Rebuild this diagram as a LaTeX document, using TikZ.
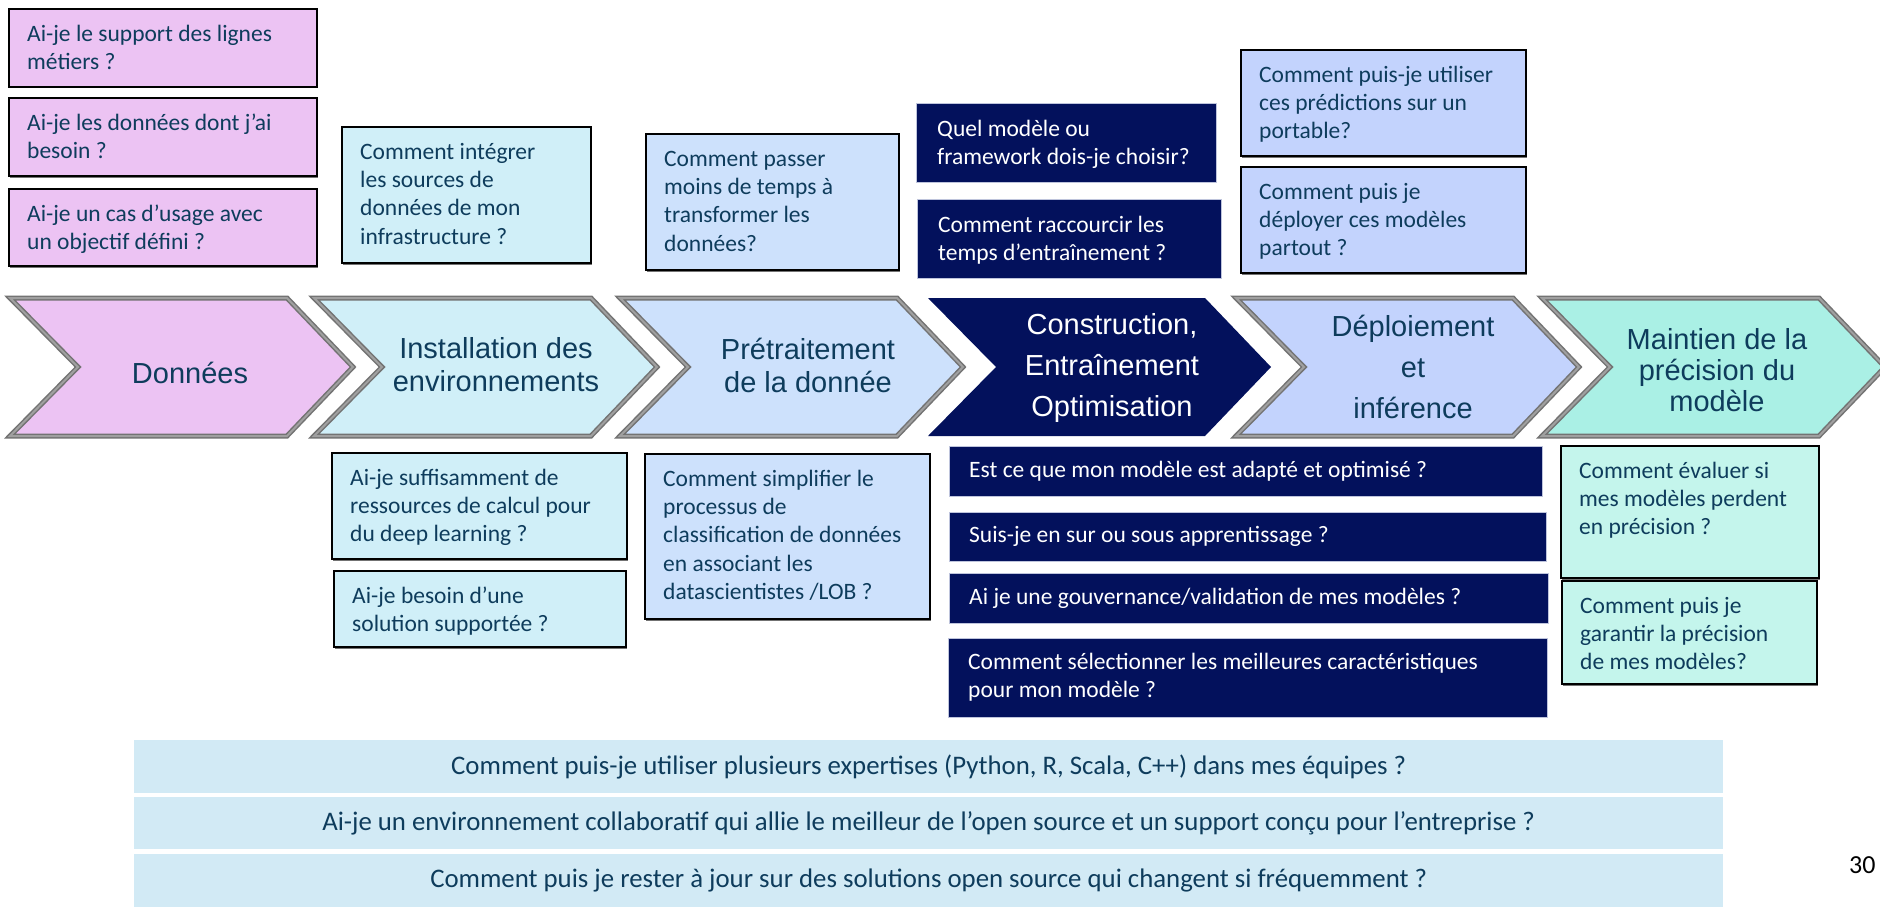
\documentclass[tikz,border=0pt]{standalone}
\usepackage{fontspec}
\setmainfont{Carlito}
\newfontfamily\arialf{Liberation Sans}
\usetikzlibrary{calc}
\definecolor{pinkF}{RGB}{236,195,243}
\definecolor{cyanF}{RGB}{208,239,248}
\definecolor{lblueF}{RGB}{205,225,252}
\definecolor{navyF}{RGB}{3,17,92}
\definecolor{periF}{RGB}{195,211,253}
\definecolor{mintC}{RGB}{170,240,229}
\definecolor{mintB}{RGB}{196,245,236}
\definecolor{barF}{RGB}{210,234,245}
\definecolor{txtC}{RGB}{14,60,92}
\definecolor{chevB}{RGB}{115,115,115}
\definecolor{chevL}{RGB}{160,160,160}
\definecolor{navyEdge}{RGB}{190,196,220}
\newcommand{\boxfont}{\fontsize{23.5}{28.4}\selectfont}
\newcommand{\barfont}{\fontsize{26.8}{30}\selectfont}
\newcommand{\chevfont}{\arialf\fontsize{29}{33}\selectfont}
\tikzset{
  qbox/.style={draw=black, line width=1.8pt, inner sep=0pt},
  navybox/.style={draw=navyEdge, line width=1pt, fill=navyF, inner sep=0pt},
  barbox/.style={fill=barF, draw=none, inner sep=0pt},
  boxtxt/.style={inner sep=0pt, align=left, font=\boxfont, text=txtC},
  bartxt/.style={inner sep=0pt, align=center, font=\barfont, text=txtC},
  chevshape/.style={draw=chevB, line width=5pt, line join=miter},
  chevinner/.style={draw=chevL, line width=2pt, line join=miter},
  chevtxt/.style={inner sep=0pt, align=center, font=\chevfont, text=txtC},
  shadowbox/.style={fill=black!55, draw=none}
}
% #1 name, #2 fill, #3 x1, #4 y1, #5 x2, #6 y2, #7 text
\newcommand{\qbox}[7]{%
  \fill[shadowbox] (#3+1.5,#4+2.5) rectangle (#5+1.5,#6+2.5);
  \node[qbox, fill=#2, anchor=north west, minimum width={#5-#3}, minimum height={#6-#4}] (#1) at (#3,#4) {};
  \node[boxtxt, anchor=north west] (#1t) at (#3+19,#4+13) {\strut #7};
}
% navy box, top aligned text
\newcommand{\nbox}[6]{%
  \node[navybox, anchor=north west, minimum width={#5-#3}, minimum height={#6-#4}] (#1) at (#3,#4) {};
  \node[boxtxt, text=white, anchor=north west] (#1t) at (#3+21,#4+13) {\strut #2};
}
% navy box, vertically centred text
\newcommand{\cbox}[6]{%
  \node[navybox, anchor=north west, minimum width={#5-#3}, minimum height={#6-#4}] (#1) at (#3,#4) {};
  \node[boxtxt, text=white, anchor=west] (#1t) at (#3+20,{(#4+#6)/2}) {#2};
}
\newcommand{\chevpath}[1]{(#1,298) -- (#1+277,298) -- (#1+343,367) -- (#1+277,436) -- (#1,436) -- (#1+68,367) -- cycle}
\newcommand{\chev}[2]{%
  \draw[chevshape, fill=#2] \chevpath{#1};
  \draw[chevinner] \chevpath{#1};
}
\begin{document}
\begin{tikzpicture}[x=1pt,y=-1pt]
\useasboundingbox[fill=white] (0,0) rectangle (1880,907);

% ---- chevrons
\chev{10}{pinkF}
\chev{314}{cyanF}
\chev{620}{lblueF}
\fill[navyF] \chevpath{928};
\chev{1236}{periF}
\chev{1542}{mintC}

\node[chevtxt] (lab1) at (190,373) {Données};
\node[chevtxt] (lab2) at (496,365) {Installation des\\environnements};
\node[chevtxt] (lab3) at (808,365) {Prétraitement\\de la donnée};
\node[chevtxt, text=white, font=\arialf\fontsize{29}{41}\selectfont] (lab4) at (1112,368) {Construction,\\Entraînement\\Optimisation};
\node[chevtxt, font=\arialf\fontsize{29}{41}\selectfont] (lab5) at (1413,367) {Déploiement\\et\\inférence};
\node[chevtxt, font=\arialf\fontsize{29}{31}\selectfont] (lab6) at (1717,370) {Maintien de la\\précision du\\modèle};

% ---- top boxes
\qbox{p1}{pinkF}{8}{8}{316}{86}{Ai-je le support des lignes\\métiers ?}
\qbox{p2}{pinkF}{8}{97}{316}{175}{Ai-je les données dont j’ai\\besoin ?}
\qbox{p3}{pinkF}{8}{188}{316}{265}{Ai-je un cas d’usage avec\\un objectif défini ?}
\qbox{c1}{cyanF}{341}{126}{590}{262}{Comment intégrer\\les sources de\\données de mon\\infrastructure ?}
\qbox{b1}{lblueF}{645}{133}{898}{269}{Comment passer\\moins de temps à\\transformer les\\données?}
\nbox{d1}{Quel modèle ou\\framework dois-je choisir?}{916}{103}{1216}{182}
\nbox{d2}{Comment raccourcir les\\temps d’entraînement ?}{917}{199}{1221}{278}
\qbox{l1}{periF}{1240}{49}{1525}{155}{Comment puis-je utiliser\\ces prédictions sur un\\portable?}
\qbox{l2}{periF}{1240}{166}{1525}{272}{Comment puis je\\déployer ces modèles\\partout ?}

% ---- bottom boxes
\qbox{e1}{cyanF}{331}{452}{626}{558}{Ai-je suffisamment de\\ressources de calcul pour\\du deep learning ?}
\qbox{e2}{cyanF}{333}{570}{625}{646}{Ai-je besoin d’une\\solution supportée ?}
\qbox{f1}{lblueF}{644}{453}{929}{618}{Comment simplifier le\\processus de\\classification de données\\en associant les\\datascientistes /LOB ?}
\cbox{n1}{Est ce que mon modèle est adapté et optimisé ?}{949}{446}{1542}{496}
\cbox{n2}{Suis-je en sur ou sous apprentissage ?}{949}{512}{1546}{561}
\cbox{n3}{Ai je une gouvernance/validation de mes modèles ?}{949}{573}{1548}{623}
\cbox{n4}{Comment sélectionner les meilleures caractéristiques\\pour mon modèle ?}{948}{638}{1547}{717}
\qbox{m1}{mintB}{1560}{445}{1818}{577}{Comment évaluer si\\mes modèles perdent\\en précision ?}
\qbox{m2}{mintB}{1561}{580}{1816}{683}{Comment puis je\\garantir la précision\\de mes modèles?}

% ---- bars
\node[barbox, anchor=north west, minimum width=1589pt, minimum height=53pt] (r1) at (134,740) {};
\node[barbox, anchor=north west, minimum width=1589pt, minimum height=52pt] (r2) at (134,797) {};
\node[barbox, anchor=north west, minimum width=1589pt, minimum height=53pt] (r3) at (134,854) {};
\node[bartxt] (r1t) at (r1.center) {Comment puis-je utiliser plusieurs expertises (Python, R, Scala, C++) dans mes équipes ?};
\node[bartxt] (r2t) at (r2.center) {Ai-je un environnement collaboratif qui allie le meilleur de l’open source et un support conçu pour l’entreprise ?};
\node[bartxt] (r3t) at (r3.center) {Comment puis je rester à jour sur des solutions open source qui changent si fréquemment ?};

\node[inner sep=0pt, anchor=west, font=\fontsize{26}{30}\selectfont] (pg) at (1849,865) {30};
\end{tikzpicture}
\end{document}
